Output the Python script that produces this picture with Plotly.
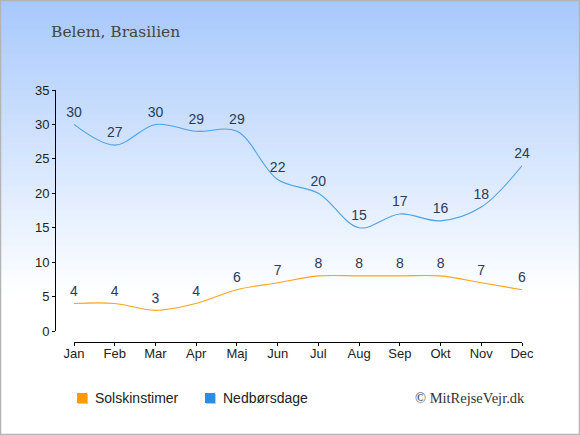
import plotly.graph_objects as go

months = ["Jan", "Feb", "Mar", "Apr", "Maj", "Jun", "Jul", "Aug", "Sep", "Okt", "Nov", "Dec"]
sun_hours = [4, 4, 3, 4, 6, 7, 8, 8, 8, 8, 7, 6]
rain_days = [30, 27, 30, 29, 29, 22, 20, 15, 17, 16, 18, 24]
legend_names = ["Solskinstimer", "Nedbørsdage"]
legend_colors = ["#ff9900", "#2b8ee6"]

W, H = 580, 435
L, R, T, B = 55, 58, 90, 93
PW, PH = W - L - R, H - T - B


def px_x(px):
    return (px - L) / PW


def px_y(py):
    return (H - B - py) / PH


fig = go.Figure()

for vals, col in [(sun_hours, "#ffa31a"), (rain_days, "#4aa2ea")]:
    fig.add_trace(go.Scatter(
        x=months, y=vals, mode="lines+markers+text", text=vals,
        textposition="top center", textfont=dict(color="#2a3a58", size=14),
        line=dict(color=col, width=1.1, shape="spline"),
        marker=dict(size=5, opacity=0),
        showlegend=False, hoverinfo="skip", cliponaxis=False,
    ))

# background gradient
shapes = []
top = (168, 201, 252)
steps = 50
g_end = 300
for i in range(steps):
    y0 = i * g_end / steps
    y1 = (i + 1) * g_end / steps + 0.5
    f = i / (steps - 1)
    c = tuple(round(top[k] + (255 - top[k]) * f) for k in range(3))
    shapes.append(dict(type="rect", xref="paper", yref="paper", layer="below",
                       x0=px_x(0), x1=px_x(W), y0=px_y(y1), y1=px_y(y0),
                       line=dict(width=0), fillcolor="rgb(%d,%d,%d)" % c))
shapes.append(dict(type="rect", xref="paper", yref="paper", layer="above",
                   x0=px_x(0.5), x1=px_x(W - 0.5), y0=px_y(H - 0.5), y1=px_y(0.5),
                   line=dict(width=1.5, color="#b4b4b4"), fillcolor="rgba(0,0,0,0)"))

# legend drawn by hand: squares and labels
annotations = []
for name, col, sx in zip(legend_names, legend_colors, [77, 205]):
    shapes.append(dict(type="rect", xref="paper", yref="paper", layer="above",
                       x0=px_x(sx + 1), x1=px_x(sx + 11), y0=px_y(404), y1=px_y(394),
                       line=dict(width=0), fillcolor="#c8c8c8"))
    shapes.append(dict(type="rect", xref="paper", yref="paper", layer="above",
                       x0=px_x(sx), x1=px_x(sx + 10), y0=px_y(403), y1=px_y(393),
                       line=dict(width=0), fillcolor=col))
    annotations.append(dict(text=name, xref="paper", yref="paper",
                            x=px_x(sx + 16), y=px_y(398), xanchor="left", yanchor="middle",
                            showarrow=False, font=dict(size=14, color="#222")))

annotations.append(dict(text="© MitRejseVejr.dk", xref="paper", yref="paper",
                        x=px_x(527), y=px_y(398), xanchor="right", yanchor="middle",
                        showarrow=False,
                        font=dict(family="Liberation Serif", size=14.5, color="#333")))

fig.update_layout(
    width=W, height=H,
    margin=dict(l=L, r=R, t=T, b=B),
    paper_bgcolor="white", plot_bgcolor="rgba(0,0,0,0)",
    font=dict(family="Liberation Sans, Arial, sans-serif", size=13, color="#222"),
    shapes=shapes,
    annotations=annotations,
    showlegend=False,
    title=dict(text="Belem, Brasilien", x=51 / W, xanchor="left", xref="container",
               y=1 - 32 / H, yanchor="middle", yref="container",
               font=dict(family="DejaVu Serif", size=15.5, color="#444")),
)

fig.update_xaxes(
    domain=[px_x(74), px_x(522)], range=[0, 11], anchor="free", position=0,
    showline=True, linecolor="#000", linewidth=1, ticks="outside", ticklen=3,
    tickcolor="#000", showgrid=False, zeroline=False, fixedrange=True,
    ticklabelstandoff=-4,
)
fig.update_yaxes(
    domain=[px_y(331), 1], range=[0, 35], dtick=5, anchor="free", position=0,
    showline=True, linecolor="#000", linewidth=1, ticks="outside", ticklen=3,
    tickcolor="#000", showgrid=False, zeroline=False, fixedrange=True,
)

fig.write_html("out.html", config={"displayModeBar": False},
               post_script="document.body.style.margin='0';")
